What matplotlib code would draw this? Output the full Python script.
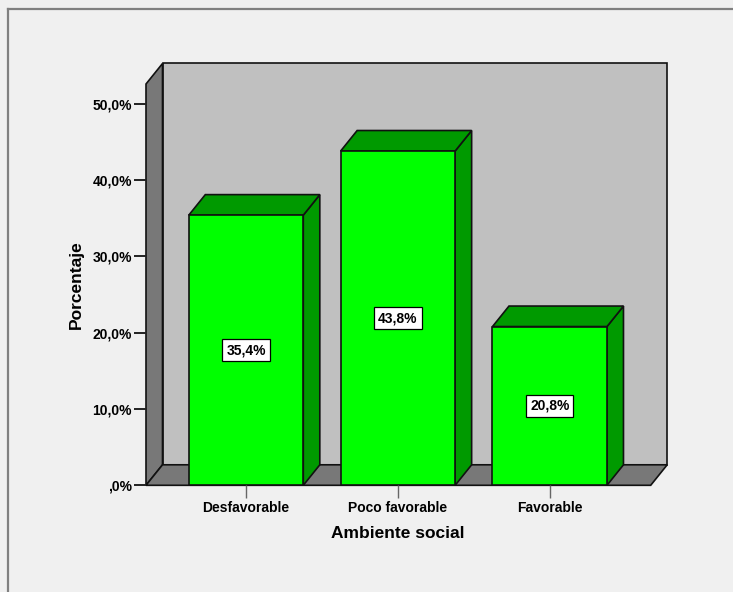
import matplotlib
matplotlib.use('Agg')
import matplotlib.pyplot as plt
from matplotlib.patches import Polygon, Rectangle
from matplotlib.lines import Line2D

# ---- data ----
categories = ['Desfavorable', 'Poco favorable', 'Favorable']
percentages = [35.4, 43.8, 20.8]
value_labels = ['35,4%', '43,8%', '20,8%']
y_ticks = [0, 10, 20, 30, 40, 50]
y_tick_labels = [',0%', '10,0%', '20,0%', '30,0%', '40,0%', '50,0%']
x_title = 'Ambiente social'
y_title = 'Porcentaje'

plt.rcParams['font.family'] = ['Liberation Sans', 'DejaVu Sans']

W, H = 733, 592
fig = plt.figure(figsize=(W / 100, H / 100), dpi=100)
fig.patch.set_facecolor('#f0f0f0')

# outer frame (top and left lines)
fx = 7.5 / W
fy = 1 - 9 / H
fig.add_artist(Line2D([fx, fx], [0, fy], transform=fig.transFigure, color='#808080', lw=1.6))
fig.add_artist(Line2D([fx, 1], [fy, fy], transform=fig.transFigure, color='#808080', lw=1.6))

# axes = front plane of the 3D box
left_px, right_px, zero_px, top_px = 146, 650.7, 485.3, 84
ax = fig.add_axes([left_px / W, (H - zero_px) / H, (right_px - left_px) / W, (zero_px - top_px) / H])
ax.set_facecolor('none')
for s in ax.spines.values():
    s.set_visible(False)

xmin, xmax = -0.659, 2.665
ymax = 52.58
ax.set_xlim(xmin, xmax)
ax.set_ylim(0, ymax)

ddx = 16.5 / 151.8   # depth offset in x data units
ddy = 20.5 / 7.632   # depth offset in y data units
bw = 0.754

dark_gray = '#787878'
wall_gray = '#c0c0c0'
front_green = '#00ff00'
dark_green = '#009a00'
ec = '#111111'
lw = 1.2

# back wall
ax.add_patch(Rectangle((xmin + ddx, ddy), xmax - xmin, ymax, facecolor=wall_gray,
                       edgecolor=ec, lw=lw, zorder=1, clip_on=False))
# left wall
ax.add_patch(Polygon([(xmin, 0), (xmin, ymax), (xmin + ddx, ymax + ddy), (xmin + ddx, ddy)],
                     closed=True, facecolor=dark_gray, edgecolor=ec, lw=lw, zorder=1.5, clip_on=False))
# floor
ax.add_patch(Polygon([(xmin, 0), (xmax, 0), (xmax + ddx, ddy), (xmin + ddx, ddy)],
                     closed=True, facecolor=dark_gray, edgecolor=ec, lw=lw, zorder=1.5, clip_on=False))

xs = list(range(len(categories)))
for i, v in zip(xs, percentages):
    x0, x1 = i - bw / 2, i + bw / 2
    ax.add_patch(Polygon([(x1, 0), (x1, v), (x1 + ddx, v + ddy), (x1 + ddx, ddy)], closed=True,
                         facecolor=dark_green, edgecolor=ec, lw=lw, zorder=2, clip_on=False))
    ax.add_patch(Polygon([(x0, v), (x1, v), (x1 + ddx, v + ddy), (x0 + ddx, v + ddy)], closed=True,
                         facecolor=dark_green, edgecolor=ec, lw=lw, zorder=2, clip_on=False))

ax.bar(xs, percentages, width=bw, color=front_green, edgecolor=ec, linewidth=lw, zorder=3)

for i, v, lab in zip(xs, percentages, value_labels):
    ax.text(i, v / 2, lab, ha='center', va='center', fontsize=10, fontweight='bold', zorder=5,
            bbox=dict(boxstyle='square,pad=0.28', facecolor='white', edgecolor='black', lw=0.9))

ax.set_yticks(y_ticks)
ax.set_yticklabels(y_tick_labels, fontsize=10, fontweight='bold')
ax.set_xticks(xs)
ax.set_xticklabels(categories, fontsize=10, fontweight='bold')
ax.tick_params(axis='y', direction='out', length=9, width=1.4, color='#222222', pad=1)
ax.tick_params(axis='x', direction='out', length=9, width=1.0, color='#666666', pad=2)

ax.set_xlabel(x_title, fontsize=12.5, fontweight='bold', va='center')
ax.xaxis.set_label_coords((398 - left_px) / (right_px - left_px), (zero_px - 534) / (zero_px - top_px))
ax.set_ylabel(y_title, fontsize=12.5, fontweight='bold', va='center')
ax.yaxis.set_label_coords((76 - left_px) / (right_px - left_px), (zero_px - 285) / (zero_px - top_px))

fig.savefig('out.png', dpi=100, facecolor=fig.get_facecolor())
